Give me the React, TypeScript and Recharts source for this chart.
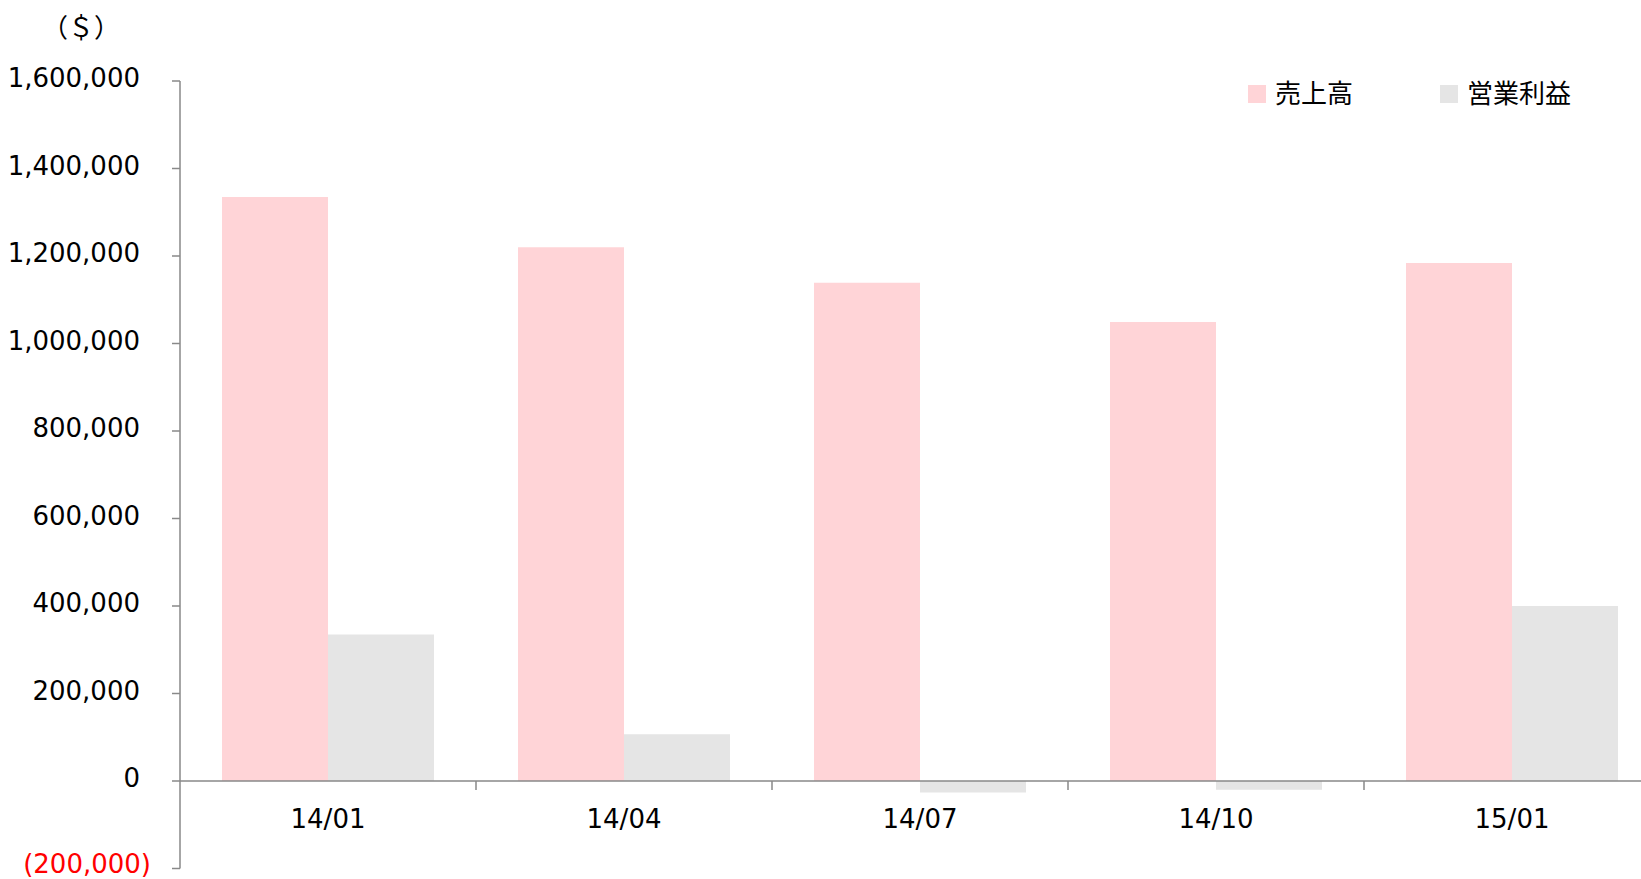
import React from 'react';
import { BarChart, Bar, XAxis, YAxis, ReferenceLine, Legend, Label } from 'recharts';

const categories = ['14/01', '14/04', '14/07', '14/10', '15/01'];
const salesValues = [1335000, 1220000, 1139000, 1049000, 1184000];
const profitValues = [335000, 107000, -26000, -20000, 400000];
const yTicks = [-200000, 0, 200000, 400000, 600000, 800000, 1000000, 1200000, 1400000, 1600000];
const seriesNames = ['売上高', '営業利益'];
const unitLabel = '（＄）';

const data = categories.map((c, i) => ({ period: c, sales: salesValues[i], profit: profitValues[i] }));

const W = 1660;
const H = 879;
const M = { top: 81, right: 0, bottom: 9.5, left: 0 };
const Y_AXIS_W = 180;
const X_AXIS_H = 1;
const Y_MIN = -200000;
const Y_MAX = 1600000;
const PLOT_H = H - M.top - M.bottom - X_AXIS_H;
const ZERO_FROM_BOTTOM = (PLOT_H * (0 - Y_MIN)) / (Y_MAX - Y_MIN);
const PLOT_W = W - M.left - M.right - Y_AXIS_W;
const HALF_BAND = PLOT_W / categories.length / 2;

const AXIS_COLOR = '#898989';
const NUM_FONT = '"DejaVu Sans", Verdana, sans-serif';
const CJK_FONT = '"Noto Sans CJK JP", "Noto Sans", sans-serif';

const fmt = (v: number) =>
  v < 0 ? `(${Math.abs(v).toLocaleString('en-US')})` : v.toLocaleString('en-US');

const YTick = (props: any) => {
  const { x, y, payload } = props;
  const v = payload.value as number;
  const neg = v < 0;
  return (
    <text
      x={x + (neg ? 11 : 0)}
      y={y}
      dy={neg ? 4.5 : 6}
      textAnchor="end"
      fill={neg ? '#FF0000' : '#000000'}
      fontSize={26}
      fontFamily={NUM_FONT}
    >
      {fmt(v)}
    </text>
  );
};

const XTick = (props: any) => {
  const { x, y, payload } = props;
  const zeroY = y - ZERO_FROM_BOTTOM;
  const half = typeof payload?.offset === 'number' && payload.offset > 0 ? payload.offset : HALF_BAND;
  return (
    <g>
      <line x1={x + half} x2={x + half} y1={zeroY} y2={zeroY + 9} stroke={AXIS_COLOR} strokeWidth={1.5} />
      <text x={x} y={zeroY + 47} textAnchor="middle" fill="#000000" fontSize={26} fontFamily={NUM_FONT}>
        {payload.value}
      </text>
    </g>
  );
};

const LegendContent = (props: any) => {
  const payload = [...(props.payload || [])].sort(
    (a: any, b: any) => seriesNames.indexOf(a.value) - seriesNames.indexOf(b.value)
  );
  return (
    <div
      style={{
        display: 'flex',
        alignItems: 'center',
        fontFamily: CJK_FONT,
        fontSize: 26,
        lineHeight: '34px',
        color: '#000000',
        whiteSpace: 'nowrap',
      }}
    >
      {payload.map((p: any, i: number) => (
        <div key={i} style={{ display: 'flex', alignItems: 'center', marginRight: i === 0 ? 87 : 0 }}>
          <span style={{ width: 18, height: 18, background: p.color, marginRight: 9, display: 'inline-block' }} />
          <span style={{ position: 'relative', top: -2 }}>{p.value}</span>
        </div>
      ))}
    </div>
  );
};

const UnitLabel = () => (
  <text x={42} y={37} fill="#000000" fontSize={26} fontFamily={CJK_FONT}>
    {unitLabel}
  </text>
);

export default function App() {
  return (
    <div
      style={{
        position: 'fixed',
        left: 0,
        top: 0,
        width: 1641,
        height: 879,
        overflow: 'hidden',
        background: '#ffffff',
      }}
    >
      <BarChart width={W} height={H} data={data} margin={M} barCategoryGap={42} barGap={0}>
        <XAxis
          dataKey="period"
          height={X_AXIS_H}
          axisLine={false}
          tickLine={false}
          tickSize={0}
          tickMargin={0}
          tick={<XTick />}
          interval={0}
        />
        <YAxis
          width={Y_AXIS_W}
          domain={[Y_MIN, Y_MAX]}
          ticks={yTicks}
          interval={0}
          tickSize={8}
          tickMargin={32}
          axisLine={{ stroke: AXIS_COLOR, strokeWidth: 1.5 }}
          tickLine={{ stroke: AXIS_COLOR, strokeWidth: 1.5 }}
          tick={<YTick />}
          allowDataOverflow
        >
          <Label content={<UnitLabel />} />
        </YAxis>
        <Legend
          layout="horizontal"
          verticalAlign="middle"
          align="center"
          content={<LegendContent />}
          wrapperStyle={{ left: 1248, top: 76.5, width: 'auto' }}
        />
        <Bar dataKey="sales" name={seriesNames[0]} fill="#FFD4D7" isAnimationActive={false} />
        <Bar dataKey="profit" name={seriesNames[1]} fill="#E5E5E5" isAnimationActive={false} />
        <ReferenceLine y={0} stroke={AXIS_COLOR} strokeWidth={1.7} />
      </BarChart>
    </div>
  );
}
